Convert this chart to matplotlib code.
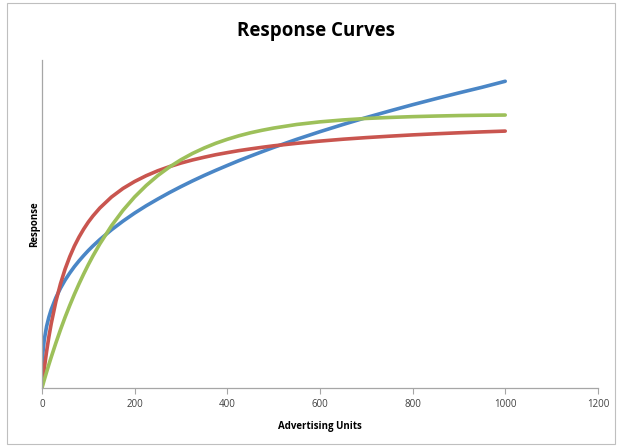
import matplotlib
matplotlib.use("Agg")
import matplotlib.pyplot as plt
from matplotlib.patches import Rectangle

# values
units = [0, 2, 5, 10, 15, 20, 30, 40, 50, 60, 70, 80, 90, 100, 110, 125, 150,
         175, 200, 225, 250, 275, 300, 325, 350, 375, 400, 425, 450, 475, 500,
         550, 600, 650, 700, 750, 800, 850, 900, 950, 1000]
blue = [0, 35.1, 48.3, 61.5, 70.8, 78.3, 90.1, 99.6, 107.7, 114.7, 121.1, 126.8,
        132.1, 137.1, 141.7, 148.1, 157.8, 166.5, 174.5, 181.8, 188.5, 194.9,
        200.9, 206.6, 212.0, 217.1, 222.0, 226.8, 231.3, 235.7, 240.0, 248.1,
        255.7, 262.9, 269.8, 276.3, 282.6, 288.6, 294.4, 300.0, 306.0]
red = [0, 8.1, 19.5, 36.4, 51.2, 64.2, 86.2, 104.0, 118.7, 131.0, 141.6, 150.6,
       158.5, 165.5, 171.6, 179.6, 190.5, 199.1, 206.0, 211.8, 216.7, 220.8,
       224.4, 227.5, 230.2, 232.7, 234.8, 236.8, 238.5, 240.1, 241.6, 244.1,
       246.3, 248.2, 249.8, 251.2, 252.5, 253.6, 254.6, 255.5, 256.3]
green = [0, 3.3, 8.1, 15.9, 23.5, 30.8, 44.9, 58.2, 70.7, 82.4, 93.5, 103.9,
         113.7, 123.0, 131.7, 143.8, 161.8, 177.3, 190.6, 202.0, 211.9, 220.4,
         227.7, 234.0, 239.4, 244.1, 248.1, 251.6, 254.6, 257.1, 259.3, 262.9,
         265.5, 267.4, 268.9, 269.9, 270.7, 271.3, 271.8, 272.1, 272.3]
x_ticks = [0, 200, 400, 600, 800, 1000, 1200]

plt.rcParams['font.family'] = ['Open Sans', 'DejaVu Sans']

fig = plt.figure(figsize=(6.17, 4.46), dpi=100)
ax = fig.add_axes([0.068, 0.130, 0.901, 0.735])

for ys, c in [(blue, '#4A86C6'), (red, '#C9554F'), (green, '#9DC05A')]:
    ax.plot(units, ys, color=c, lw=2.6, solid_capstyle='round',
            solid_joinstyle='round')

ax.set_xlim(0, 1200)
ax.set_ylim(0, 327)
ax.set_xticks(x_ticks)
ax.set_yticks([])
ax.tick_params(axis='x', direction='out', length=4, color='#A6A6A6',
               labelsize=7, labelcolor='#404040', pad=4)

for side in ['top', 'right']:
    ax.spines[side].set_visible(False)
for side in ['left', 'bottom']:
    ax.spines[side].set_color('#A6A6A6')
    ax.spines[side].set_linewidth(0.9)

ax.set_xlabel('Advertising Units', fontsize=7, fontweight='bold', labelpad=8)
ax.set_ylabel('Response', fontsize=7, fontweight='bold', labelpad=1)
fig.text(0.512, 0.93, 'Response Curves', ha='center', va='center',
         fontsize=13.5, fontweight='bold')

# chart area border
fig.patches.append(Rectangle((0.011, 0.004), 0.985, 0.99, transform=fig.transFigure,
                             fill=False, edgecolor='#BFBFBF', lw=0.8))

fig.savefig('out.png', dpi=100)
